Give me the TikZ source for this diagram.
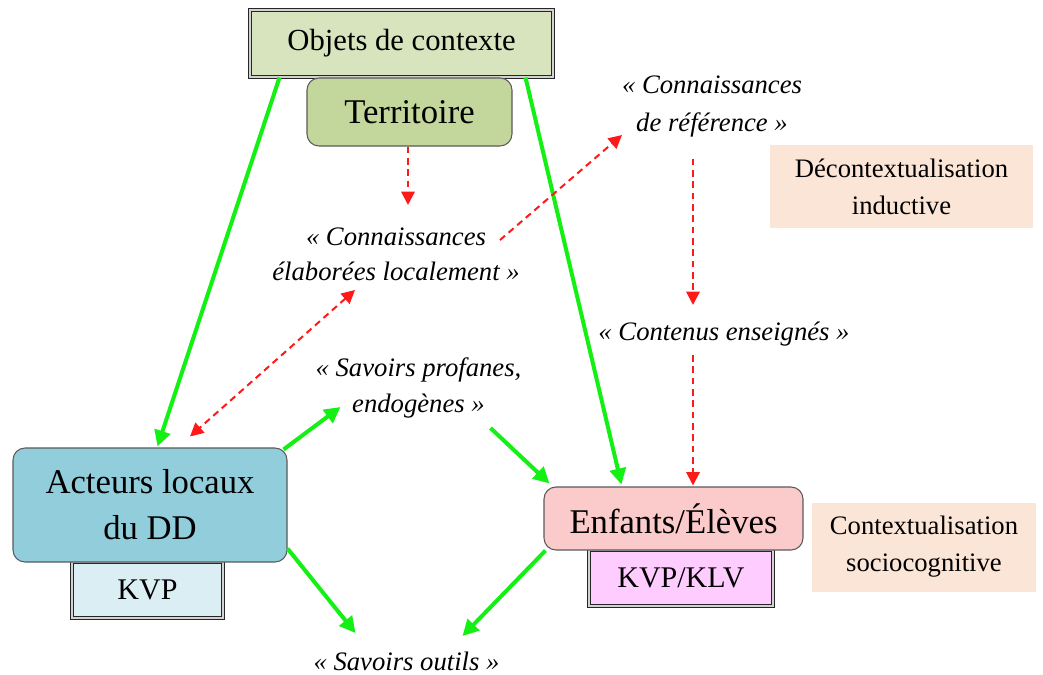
\documentclass[tikz,border=0pt]{standalone}
\usepackage{fontspec}
\setmainfont{Liberation Serif}
\usetikzlibrary{arrows.meta,calc}
\definecolor{objfill}{HTML}{D7E4BD}
\definecolor{terrfill}{HTML}{C3D69B}
\definecolor{actfill}{HTML}{92CDDC}
\definecolor{kvpfill}{HTML}{DBEEF4}
\definecolor{enffill}{HTML}{FBCACA}
\definecolor{klvfill}{HTML}{FFCCFF}
\definecolor{peach}{HTML}{FBE5D6}
\definecolor{bordgray}{HTML}{5A5A5A}
\definecolor{brightgreen}{HTML}{14F014}
\definecolor{dashred}{HTML}{FF1A1A}
\tikzset{
  framebox/.style={draw=black!85, line width=0.8pt, double=gray!35, double distance=1.4pt, inner sep=0pt},
  roundbox/.style={draw=bordgray, line width=0.8pt, rounded corners=9pt, inner sep=0pt, align=center},
  peachbox/.style={fill=peach, inner sep=0pt, align=center, font=\fontsize{20}{27.75}\selectfont},
  itxt/.style={inner sep=0pt, align=center, font=\itshape\fontsize{20}{26.5}\selectfont},
  garrow/.style={draw=brightgreen, line width=3pt, -{Triangle[length=12pt,width=12pt]}},
  rarrow/.style={draw=dashred, line width=1.5pt, dash pattern=on 5pt off 3.5pt, -{Triangle[length=10pt,width=10pt]}},
}
\begin{document}
\begin{tikzpicture}[x=0.75pt,y=-0.75pt]
\useasboundingbox (0,0) rectangle (1043,675);
\fill[white] (0,0) rectangle (1043,675);

% boxes
\node[framebox, fill=objfill, minimum width=303*0.75, minimum height=67*0.75,
      font=\fontsize{23}{28}\selectfont] (obj) at (401.5,43.5) {Objets de contexte};
\node[roundbox, fill=terrfill, minimum width=205*0.75, minimum height=68*0.75,
      font=\fontsize{26}{30}\selectfont] (terr) at (409.5,112) {Territoire};

\node[peachbox, minimum width=263*0.75, minimum height=83*0.75] (decon) at (901.5,186.5)
  {Décontextualisation\\inductive};

\node[framebox, fill=kvpfill, minimum width=151*0.75, minimum height=56*0.75,
      font=\fontsize{22.5}{27}\selectfont] (kvp) at (147.5,590) {KVP};
\node[roundbox, fill=actfill, minimum width=274*0.75, minimum height=114*0.75,
      font=\fontsize{26}{34.5}\selectfont] (act) at (150,505) {Acteurs locaux\\du DD};

\node[framebox, fill=klvfill, minimum width=184*0.75, minimum height=56*0.75,
      font=\fontsize{22.5}{27}\selectfont] (klv) at (681,578) {KVP/KLV};
\node[roundbox, fill=enffill, minimum width=259*0.75, minimum height=63*0.75,
      font=\fontsize{26}{30}\selectfont] (enf) at (673.5,518.5) {Enfants/Élèves};

\node[peachbox, minimum width=224*0.75, minimum height=89*0.75] (ctx) at (924,547)
  {Contextualisation\\sociocognitive};

% italic labels
\node[itxt, font=\itshape\fontsize{20}{28.5}\selectfont] (ref) at (712,106.5) {«~Connaissances\\de référence~»};
\node[itxt] (elab) at (396,254) {«~Connaissances\\élaborées localement~»};
\node[itxt] (cont) at (724,334) {«~Contenus enseignés~»};
\node[itxt] (sav) at (418.5,388) {«~Savoirs profanes,\\endogènes~»};
\node[itxt] (outil) at (406.5,661) {«~Savoirs outils~»};

% green arrows
\draw[garrow] ($(obj.south west)+(30,0)$) -- ($(act.north west)+(145,-1)$);
\draw[garrow] ($(obj.south east)+(-28,0)$) -- ($(enf.north west)+(78,-2)$);
\draw[garrow] ($(act.north east)+(-4,2)$) -- ($(sav.center)+(-78,19)$);
\draw[garrow] ($(sav.center)+(72,40)$) -- ($(enf.north west)+(6,-3)$);
\draw[garrow] ($(act.south east)+(0,-14)$) -- ($(outil.center)+(-51,-28)$);
\draw[garrow] ($(enf.south west)+(2,0)$) -- ($(outil.center)+(56,-25)$);

% red dashed arrows
\draw[rarrow] ($(terr.south)+(-1.5,0)$) -- ($(elab.center)+(12,-49)$);
\draw[rarrow] ($(elab.center)+(104,-14)$) -- ($(ref.center)+(-90,28.5)$);
\draw[rarrow, {Triangle[length=10pt,width=10pt]}-{Triangle[length=10pt,width=10pt]}]
  ($(elab.center)+(-41,36)$) -- ($(act.north)+(40,-11)$);
\draw[rarrow] ($(ref.center)+(-19,52)$) -- ($(cont.center)+(-31,-29)$);
\draw[rarrow] ($(cont.center)+(-31,21)$) -- ($(enf.north)+(19.5,-1)$);
\end{tikzpicture}
\end{document}
